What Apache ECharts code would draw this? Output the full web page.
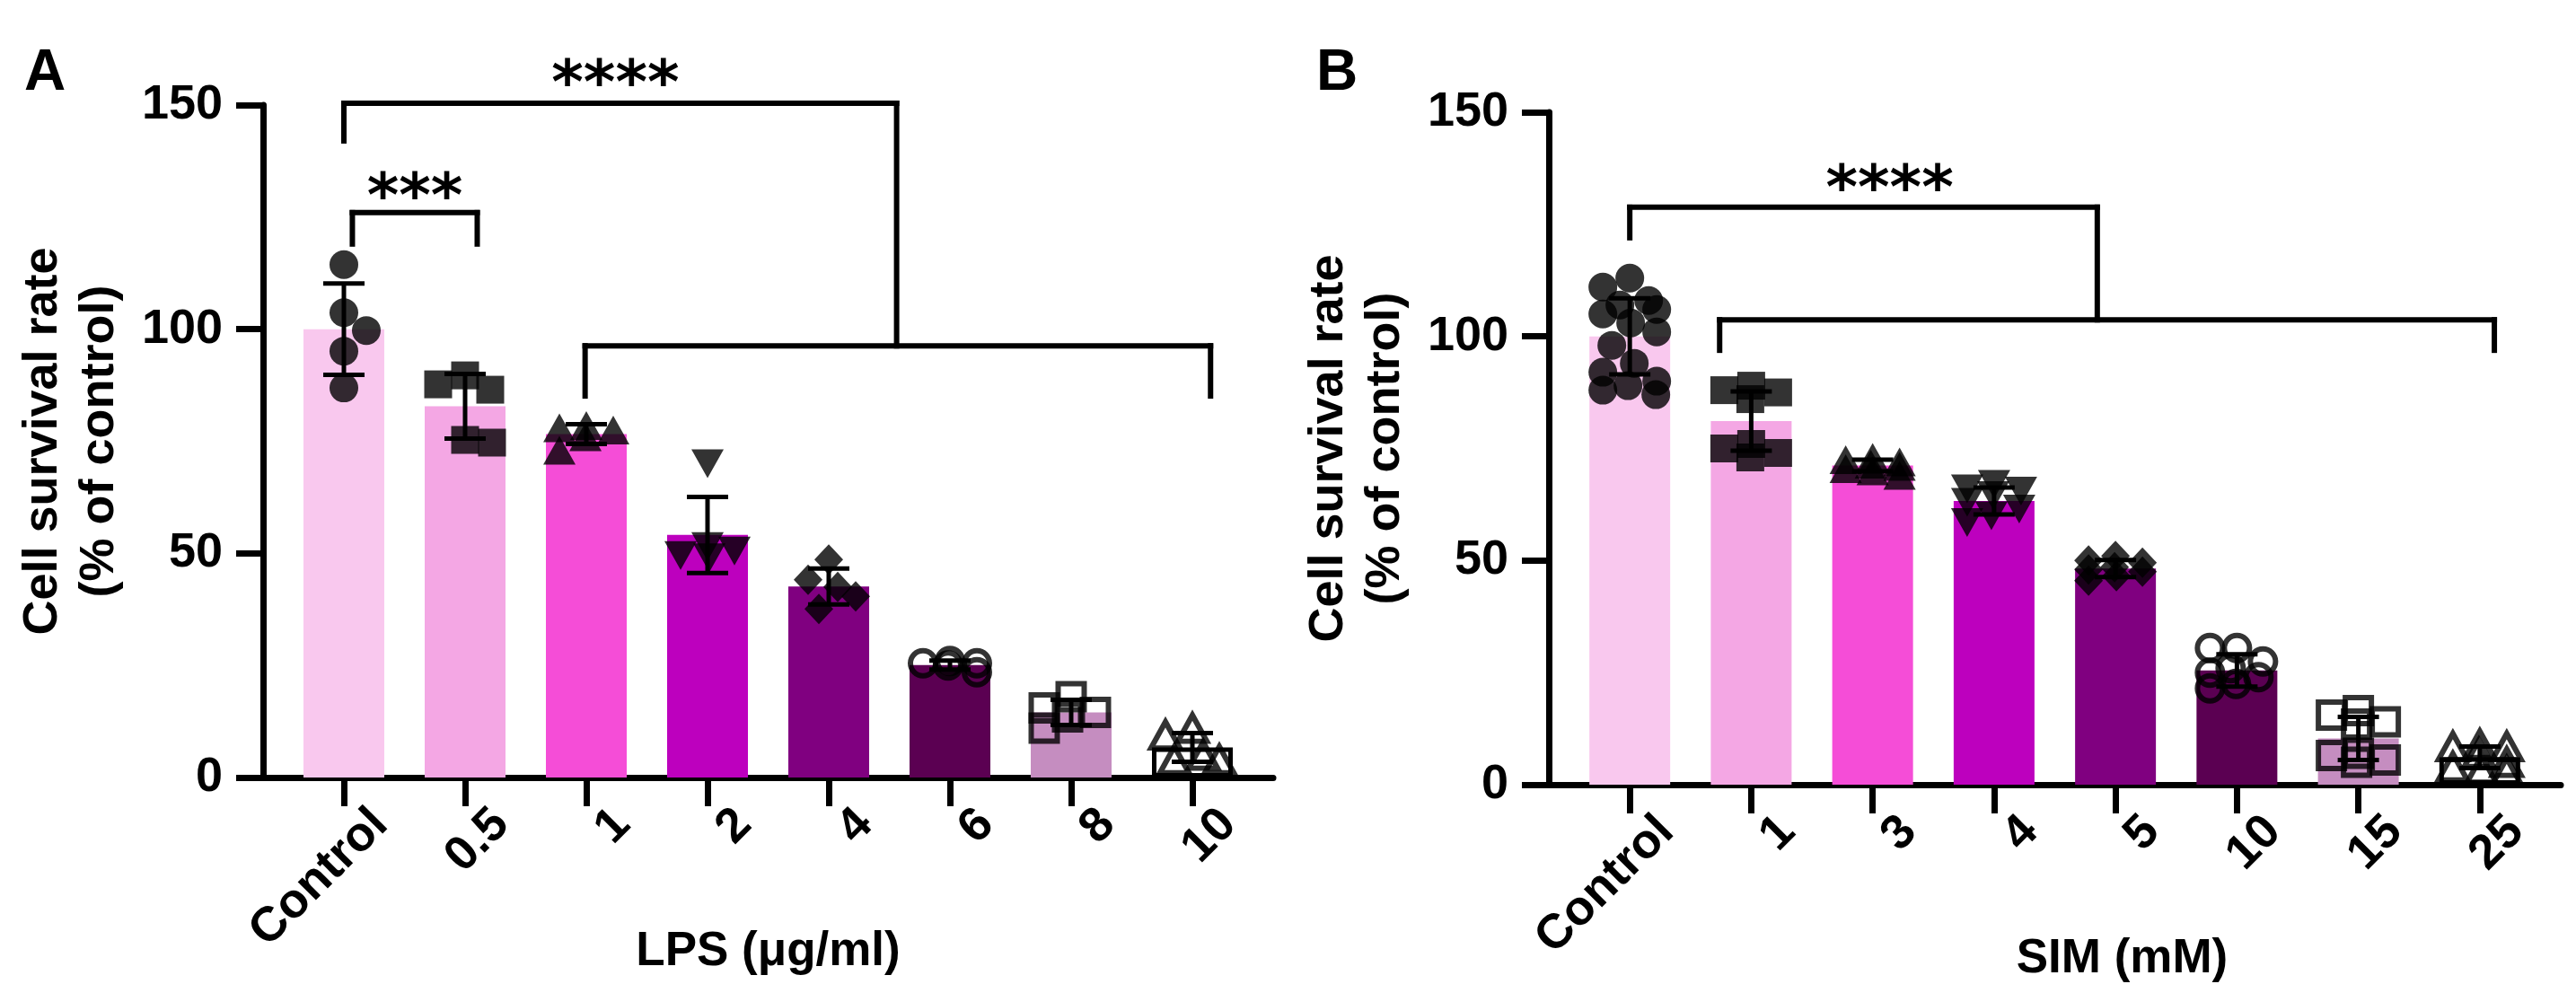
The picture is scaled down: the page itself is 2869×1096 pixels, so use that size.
<!DOCTYPE html>
<html><head><meta charset="utf-8">
<script src="https://cdn.jsdelivr.net/npm/echarts@6/dist/echarts.min.js"></script>
<style>html,body{margin:0;padding:0;background:#fff;}#c{width:2869px;height:1096px;}</style>
</head><body><div id="c"></div>
<script>
// ---------- data ----------
const categoriesA = ['Control', '0.5', '1', '2', '4', '6', '8', '10'];
const categoriesB = ['Control', '1', '3', '4', '5', '10', '15', '25'];
const yTickValues = [0, 50, 100, 150];
const xNameA = 'LPS (μg/ml)';
const xNameB = 'SIM (mM)';
const yName = 'Cell survival rate\n(% of control)';

const meansA = [100, 82.8, 76.6, 54.1, 42.6, 25.1, 14.5, 6.7];
const sdA = [10.2, 7.2, 2.2, 8.5, 4.0, 1.0, 2.8, 3.2];
const pointsA = [
  [114.4, 103.7, 99.7, 95.1, 86.9],
  [87.7, 89.7, 86.5, 74.7, 75.3],
  [78.5, 78, 76, 77.5, 73],
  [70, 51.5, 50.5, 49.5, 49],
  [48.6, 44.1, 42.5, 40.4, 37.6],
  [25.5, 26, 25.5, 25, 23.5],
  [18, 11, 15.5, 13.5, 14.5],
  [11, 9.5, 5, 4, 4]
];
const meansB = [100, 81.1, 71.2, 63.3, 48.2, 25.5, 10.3, 6.1];
const sdB = [8.5, 6.6, 1.3, 3.0, 1.9, 3.6, 4.8, 2.4];
const pointsB = [
  [113, 111, 108, 107, 106, 105, 103, 101, 98, 94, 92, 90, 89, 88, 87],
  [89, 88, 87.5, 86, 76, 75, 74, 73],
  [73, 72.5, 72, 71.5, 71, 70.5, 70, 69],
  [67, 66, 65.5, 64.5, 63, 61.5, 60, 58.5],
  [51, 50, 49.5, 48.5, 48, 47.5, 46.5, 45.5],
  [30.5, 30.5, 27.5, 26, 25, 24, 22.5, 21.5],
  [16.5, 15.5, 14, 13.5, 7, 6.5, 5.5, 5],
  [9, 8.5, 8.5, 7, 5, 4, 3.5, 3]
];
// significance brackets in data units: [xLeft, xRight, yBar, yLeftLegEnd, yRightLegEnd]
const bracketsA = [
  [0.07, 1.10, 126, 119, 119],
  [0, 4.56, 150.4, 142, 96.3],
  [1.99, 7.15, 96.3, 85.1, 85.1]
];
const starsA = [['***', 0.585, 128.8], ['****', 2.24, 154]];
const bracketsB = [
  [0, 3.85, 128.8, 122, 103.7],
  [0.74, 7.12, 103.7, 96.9, 96.9]
];
const starsB = [['****', 2.14, 132.2]];

// ---------- styling ----------
const FONT = '"Liberation Sans", Arial, Helvetica, sans-serif';
const barColors = ['#F9C8EE', '#F4A7E4', '#F54DD7', '#BD00BE', '#800080', '#5B0052', '#C58DC0', '#FFFFFF'];
const barBorders = [0, 0, 0, 0, 0, 0, 0, 5];
const markers = [
  {symbol: 'circle', size: 32, open: false},
  {symbol: 'rect', size: 31, open: false},
  {symbol: 'triangle', size: [36, 32], open: false},
  {symbol: 'triangle', size: [36, 32], open: false, rotate: 180},
  {symbol: 'diamond', size: [32, 34], open: false},
  {symbol: 'circle', size: 28, open: true},
  {symbol: 'rect', size: 29, open: true},
  {symbol: 'triangle', size: [32, 29], open: true}
];
const LABEL_SHIFT = 0.3; // rotated tick labels sit slightly right of their tick
const panels = [
  {cats: categoriesA, means: meansA, sd: sdA, pts: pointsA, brackets: bracketsA, stars: starsA, xName: xNameA,
   grid: {left: 293, top: 117, width: 1125, height: 749}, namePad: [0, 0, 0, 0], letter: 'A', letterPos: [27, 50]},
  {cats: categoriesB, means: meansB, sd: sdB, pts: pointsB, brackets: bracketsB, stars: starsB, xName: xNameB,
   grid: {left: 1725, top: 125, width: 1127, height: 749}, namePad: [0, 0, 0, 150], letter: 'B', letterPos: [1466, 50]}
];

const chart = echarts.init(document.getElementById('c'), null, {renderer: 'canvas'});

function buildOption(offsets) {
  const grids = [], xAxes = [], yAxes = [], series = [], titles = [];
  panels.forEach((p, g) => {
    grids.push(Object.assign({containLabel: false, outerBoundsMode: 'none'}, p.grid));
    const idx = p.cats.map((c, i) => i);
    xAxes.push({
      gridIndex: g, type: 'value', min: -2 / 3, max: p.cats.length - 1 + 2 / 3,
      axisLine: {show: true, onZero: false, lineStyle: {color: '#000', width: 7}},
      axisTick: {show: true, customValues: idx, length: 32, inside: false, lineStyle: {color: '#000', width: 7}},
      axisLabel: {show: true, customValues: idx.map(i => i + LABEL_SHIFT),
        formatter: v => p.cats[Math.round(v - LABEL_SHIFT)], rotate: 45, margin: 44,
        fontSize: 54, fontWeight: 'bold', color: '#000', fontFamily: FONT},
      splitLine: {show: false},
      name: p.xName, nameLocation: 'middle', nameGap: 168, nameMoveOverlap: false,
      nameTextStyle: {fontSize: 53, fontWeight: 'bold', color: '#000', fontFamily: FONT, padding: p.namePad}
    });
    yAxes.push({
      gridIndex: g, type: 'value', min: 0, max: 150, interval: 50,
      axisLine: {show: true, onZero: false, lineStyle: {color: '#000', width: 7}},
      axisTick: {show: true, length: 30, lineStyle: {color: '#000', width: 7}},
      axisLabel: {show: true, margin: 45, fontSize: 54, fontWeight: 'bold', color: '#000', fontFamily: FONT},
      splitLine: {show: false},
      name: yName, nameLocation: 'middle', nameRotate: 90, nameGap: 150, nameMoveOverlap: false,
      nameTextStyle: {fontSize: 54, fontWeight: 'bold', color: '#000', fontFamily: FONT, lineHeight: 63, align: 'center'}
    });
    titles.push({text: p.letter, left: p.letterPos[0], top: p.letterPos[1], padding: 0,
      textStyle: {fontSize: 64, fontWeight: 'bold', color: '#000', fontFamily: FONT}});
    // bars
    series.push({
      type: 'bar', xAxisIndex: g, yAxisIndex: g, barWidth: 90, z: 1,
      data: p.means.map((m, i) => ({value: [i, m],
        itemStyle: {color: barColors[i], borderColor: '#000', borderWidth: barBorders[i]}}))
    });
    // error bars
    series.push({
      type: 'custom', xAxisIndex: g, yAxisIndex: g, z: 2, clip: false,
      encode: {x: 0, y: 1},
      data: p.means.map((m, i) => [i, m]),
      renderItem: (params, api) => {
        const i = params.dataIndex, m = p.means[i], s = p.sd[i];
        const top = api.coord([i, m + s]), bot = api.coord([i, m - s]);
        const hw = 23, st = {stroke: '#000', lineWidth: 5};
        return {type: 'group', children: [
          {type: 'line', shape: {x1: top[0], y1: top[1], x2: bot[0], y2: bot[1]}, style: st},
          {type: 'line', shape: {x1: top[0] - hw, y1: top[1], x2: top[0] + hw, y2: top[1]}, style: st},
          {type: 'line', shape: {x1: bot[0] - hw, y1: bot[1], x2: bot[0] + hw, y2: bot[1]}, style: st}
        ]};
      }
    });
    // points
    p.pts.forEach((vals, i) => {
      const mk = markers[i];
      series.push({
        type: 'scatter', id: 'pts' + g + '_' + i, xAxisIndex: g, yAxisIndex: g, z: 3,
        symbol: mk.symbol, symbolSize: mk.size, symbolRotate: mk.rotate || 0,
        itemStyle: mk.open ? {color: 'rgba(0,0,0,0)', borderColor: '#000', borderWidth: 6}
                           : {color: '#000', borderWidth: 0},
        data: vals.map((v, k) => [i + (offsets ? offsets[g][i][k] : 0), v])
      });
    });
    // brackets
    series.push({
      type: 'custom', xAxisIndex: g, yAxisIndex: g, z: 4, clip: false,
      encode: {x: 0, y: 1},
      data: p.brackets.map(b => [b[0], b[2]]),
      renderItem: (params, api) => {
        const b = p.brackets[params.dataIndex];
        const a1 = api.coord([b[0], b[3]]), a2 = api.coord([b[0], b[2]]);
        const a3 = api.coord([b[1], b[2]]), a4 = api.coord([b[1], b[4]]);
        const st = {stroke: '#000', lineWidth: 6, lineCap: 'square'};
        return {type: 'group', children: [
          {type: 'line', shape: {x1: a1[0], y1: a1[1], x2: a2[0], y2: a2[1]}, style: st},
          {type: 'line', shape: {x1: a2[0], y1: a2[1], x2: a3[0], y2: a3[1]}, style: st},
          {type: 'line', shape: {x1: a3[0], y1: a3[1], x2: a4[0], y2: a4[1]}, style: st}
        ]};
      }
    });
    // stars
    series.push({
      type: 'custom', xAxisIndex: g, yAxisIndex: g, z: 4, clip: false,
      encode: {x: 0, y: 1},
      data: p.stars.map(s => [s[1], s[2]]),
      renderItem: (params, api) => {
        const s = p.stars[params.dataIndex];
        const pt = api.coord([s[1], s[2]]);
        return {type: 'text', x: pt[0], y: pt[1],
          style: {text: s[0], fill: '#000', fontSize: 68, fontWeight: 'bold',
            fontFamily: '"DejaVu Sans", sans-serif', align: 'center', verticalAlign: 'middle'}};
      }
    });
  });
  return {animation: false, backgroundColor: '#fff', title: titles, grid: grids, xAxis: xAxes, yAxis: yAxes, series: series};
}

chart.setOption(buildOption(null));

// beeswarm-style horizontal spreading of points (computed in pixel space from the axes)
function swarm(vals, g, cat, D, maxOff) {
  const order = vals.map((v, i) => i).sort((a, b) => vals[b] - vals[a]);
  const placed = [], res = new Array(vals.length);
  order.forEach((idx, k) => {
    const py = chart.convertToPixel({gridIndex: g}, [cat, vals[idx]])[1];
    let best = 0, bestScore = Infinity;
    for (let off = -maxOff; off <= maxOff; off += 1) {
      let pen = 0;
      for (const q of placed) {
        const d = Math.hypot(off - q.x, py - q.y);
        if (d < D) pen += D - d;
      }
      const bias = (k % 2 === 0) ? (off < 0 ? 0.1 : 0) : (off > 0 ? 0.1 : 0);
      const score = pen * 100 + Math.abs(off) + bias;
      if (score < bestScore) { bestScore = score; best = off; }
    }
    placed.push({x: best, y: py});
    res[idx] = best;
  });
  const pxPerUnit = chart.convertToPixel({gridIndex: g}, [1, 0])[0] - chart.convertToPixel({gridIndex: g}, [0, 0])[0];
  return res.map(o => o / pxPerUnit);
}
const offsets = panels.map((p, g) => p.pts.map((vals, i) => swarm(vals, g, i, 32, 30)));
chart.setOption(buildOption(offsets), {notMerge: true});
</script></body></html>
